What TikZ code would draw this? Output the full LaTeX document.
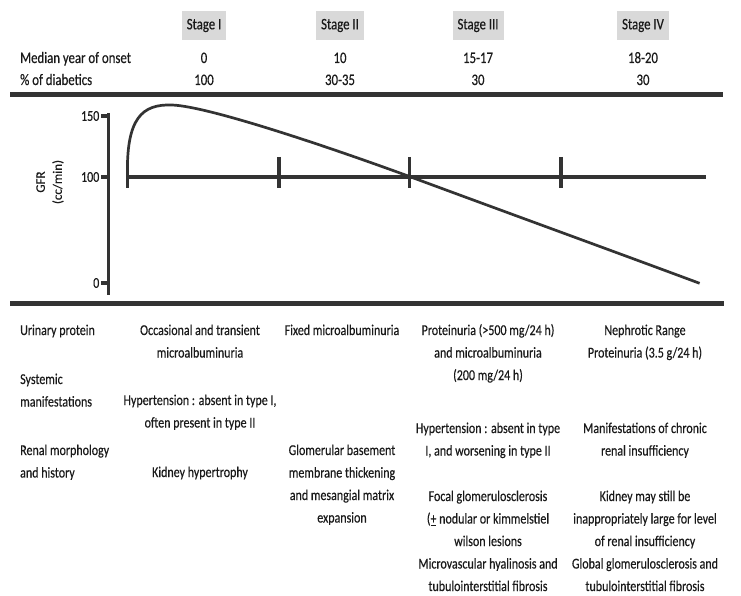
\documentclass[tikz,border=0pt]{standalone}
\usepackage{fontspec}
\setmainfont{Carlito}[FakeStretch=0.8,FakeBold=0.4]
\newfontfamily\axisfont{Carlito}[FakeBold=0.4]
\definecolor{ink}{HTML}{1A1A1A}
\definecolor{linegray}{HTML}{333333}
\definecolor{stagefill}{HTML}{D9D9D9}
\newcommand\cblock[1]{\begin{tabular}[t]{@{}c@{}}#1\end{tabular}}
\newcommand\lblock[1]{\begin{tabular}[t]{@{}l@{}}#1\end{tabular}}
\begin{document}
\begin{tikzpicture}[x=1pt,y=-1pt,
  txt/.style={text=ink,inner sep=0pt,anchor=base,font=\fontsize{15}{22.5}\selectfont},
  head/.style={text=ink,inner sep=0pt,anchor=base,font=\fontsize{16}{18}\selectfont},
  stagebox/.style={fill=stagefill,text=ink,inner xsep=5pt,inner ysep=0pt,minimum height=29pt,font=\fontsize{16}{18}\selectfont},
  rule/.style={draw=linegray,line width=5pt},
  axisline/.style={draw=linegray,line width=3.5pt},
  ticks/.style={draw=linegray,line width=3.3pt},
  hline/.style={draw=linegray,line width=3.2pt},
  curve/.style={draw=linegray,line width=2.7pt,line join=round},
  axislab/.style={text=ink,inner sep=0pt,anchor=east,font=\fontsize{15}{16}\selectfont},
  ylab/.style={text=ink,inner sep=0pt,rotate=90,align=center,font=\axisfont\fontsize{13}{17}\selectfont}
]
\useasboundingbox (0,0) rectangle (741,596);

% stage headers
\node[stagebox] (s1) at (204,25.5) {Stage I};
\node[stagebox] (s2) at (340,25.5) {Stage II};
\node[stagebox] (s3) at (478,25.5) {Stage III};
\node[stagebox] (s4) at (643,25.5) {Stage IV};

\node[head,anchor=base west] (mlab) at (20,63) {Median year of onset};
\node[head] (m1) at (204,63) {0};
\node[head] (m2) at (340,63) {10};
\node[head] (m3) at (478,63) {15-17};
\node[head] (m4) at (643,63) {18-20};

\node[head,anchor=base west] (plab) at (20,85) {\% of diabetics};
\node[head] (p1) at (204,85) {100};
\node[head] (p2) at (340,85) {30-35};
\node[head] (p3) at (478,85) {30};
\node[head] (p4) at (643,85) {30};

\draw[rule] (10,94.5) -- (723,94.5);
\draw[rule] (10,303) -- (724,303);

% graph
\coordinate (ytop) at (108.5,113);
\coordinate (ybot) at (108.5,295);
\draw[axisline] (ytop) -- (ybot);
\coordinate (t150) at (108.5,116);
\coordinate (t100) at (108.5,177);
\coordinate (t0) at (108.5,283);
\draw[ticks] (t150) -- ++(-7.5,0);
\draw[ticks] (t100) -- ++(-7.5,0);
\draw[ticks] (t0) -- ++(-7.5,0);
\node[axislab] (l150) at (99.5,116) {150};
\node[axislab] (l100) at (99.5,177) {100};
\node[axislab] (l0) at (99.5,283) {0};
\node[ylab] (gfr) at (50,182) {GFR\\(cc/min)};

\coordinate (hstart) at (127.5,177);
\coordinate (hend) at (706,177);
\draw[hline] (hstart) -- (hend);
\draw[ticks] (127.5,177) -- (127.5,188);
\draw[ticks] (279,157) -- (279,188);
\draw[ticks] (409.5,157) -- (409.5,188);
\draw[ticks] (561,157) -- (561,188);

\coordinate (cpeak) at (172,105);
\coordinate (ccross) at (409.5,176.5);
\coordinate (cend) at (699.6,283.3);
\draw[curve] (hstart) .. controls (126,118) and (142,104) .. (cpeak)
  .. controls (210,106.3) and (340,151) .. (ccross)
  .. controls (500,210) and (610,250) .. (cend);

% bottom table
\node[txt,anchor=base west] (rp) at (20,335) {Urinary protein};
\node[txt,anchor=base west] (sm) at (20,384) {\lblock{Systemic\\manifestations}};
\node[txt,anchor=base west] (rm) at (20,455) {\lblock{Renal morphology\\and history}};

\node[txt] (u1) at (200,335) {\cblock{Occasional and transient\\microalbuminuria}};
\node[txt] (h1) at (200,405) {\cblock{Hypertension : absent in type I,\\often present in type II}};
\node[txt] (k1) at (200,477) {Kidney hypertrophy};

\node[txt] (u2) at (342,335) {Fixed microalbuminuria};
\node[txt] (g2) at (342,455) {\cblock{Glomerular basement\\membrane thickening\\and mesangial matrix\\expansion}};

\node[txt] (u3) at (488,335) {\cblock{Proteinuria (>500 mg/24 h)\\and microalbuminuria\\(200 mg/24 h)}};
\node[txt] (h3) at (488,433) {\cblock{Hypertension : absent in type\\I, and worsening in type II}};
\node[txt] (f3) at (488,501) {\cblock{Focal glomerulosclerosis\\(\underline{+} nodular or kimmelstiel\\wilson lesions\\Microvascular hyalinosis and\\tubulointerstitial fibrosis}};

\node[txt] (u4) at (645,335) {\cblock{Nephrotic Range\\Proteinuria (3.5 g/24 h)}};
\node[txt] (h4) at (645,433) {\cblock{Manifestations of chronic\\renal insufficiency}};
\node[txt] (k4) at (645,501) {\cblock{Kidney may still be\\inappropriately large for level\\of renal insufficiency\\Global glomerulosclerosis and\\tubulointerstitial fibrosis}};
\end{tikzpicture}
\end{document}
